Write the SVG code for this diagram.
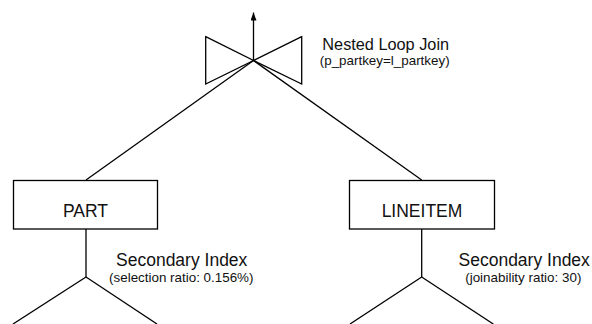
<svg xmlns="http://www.w3.org/2000/svg" width="592" height="324" viewBox="0 0 592 324">
<style>
.ln{stroke:#000;stroke-width:1.3;fill:none}
.bx{stroke:#000;stroke-width:1.3;fill:#fff}
.t{font-family:"Liberation Sans",Arial,sans-serif;fill:#111;text-anchor:middle}
.big{font-size:17.5px}
.sm{font-size:13.4px}
</style>
<defs>
<marker id="ah" viewBox="0 0 8 6" refX="8" refY="3" markerWidth="8" markerHeight="6" markerUnits="userSpaceOnUse" orient="auto">
<path d="M0,0 L8,3 L0,6 Z" fill="#000"/>
</marker>
</defs>
<rect width="592" height="324" fill="#fff"/>
<g id="connectors">
<line class="ln" x1="253.5" y1="60.5" x2="86" y2="180"/>
<line class="ln" x1="253.5" y1="60.5" x2="421.7" y2="180"/>
<line class="ln" x1="86" y1="229" x2="86" y2="277"/>
<line class="ln" x1="86" y1="277" x2="13" y2="324"/>
<line class="ln" x1="86" y1="277" x2="157" y2="324"/>
<line class="ln" x1="421.7" y1="229" x2="421.7" y2="277"/>
<line class="ln" x1="421.7" y1="277" x2="350" y2="324"/>
<line class="ln" x1="421.7" y1="277" x2="493.3" y2="324"/>
<line class="ln" x1="253.5" y1="60.5" x2="253.5" y2="12.5" marker-end="url(#ah)"/>
</g>
<g id="nlj">
<path class="ln" d="M205.7,36.7 L253.5,60.5 L205.7,84 Z"/>
<path class="ln" d="M301.7,36.7 L253.5,60.5 L301.7,84 Z"/>
<text class="t" x="385.7" y="50" style="font-size:16.3px">Nested Loop Join</text>
<text class="t sm" x="384.7" y="65">(p_partkey=l_partkey)</text>
</g>
<g id="part">
<rect class="bx" x="13.5" y="180.5" width="144" height="48.5"/>
<text class="t big" x="85.5" y="217">PART</text>
</g>
<g id="lineitem">
<rect class="bx" x="349.5" y="180.5" width="145" height="48.5"/>
<text class="t big" x="422" y="217">LINEITEM</text>
</g>
<g id="idx-part">
<text class="t big" x="181.7" y="266">Secondary Index</text>
<text class="t sm" x="181.3" y="282">(selection ratio: 0.156%)</text>
</g>
<g id="idx-lineitem">
<text class="t big" x="524.2" y="266">Secondary Index</text>
<text class="t sm" x="523.3" y="282">(joinability ratio: 30)</text>
</g>
</svg>
